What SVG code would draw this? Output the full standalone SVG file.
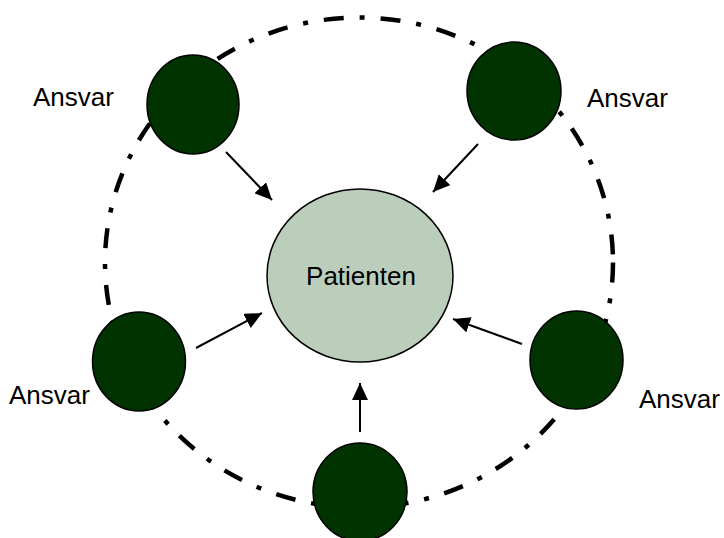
<svg xmlns="http://www.w3.org/2000/svg" width="724" height="538" viewBox="0 0 724 538">
  <style>
    .ring { fill: none; stroke: #000; stroke-width: 4.5; stroke-dasharray: 20 16 5 16; }
    .resp { fill: #003300; stroke: #000; stroke-width: 1.5; }
    .patient { fill: #bbcdbb; stroke: #000; stroke-width: 1.5; }
    .lbl { font-family: "Liberation Sans", Arial, sans-serif; font-size: 26px; fill: #000; }
    .arrow { stroke: #000; stroke-width: 2; fill: none; marker-end: url(#ah); }
  </style>
  <defs>
    <marker id="ah" markerUnits="userSpaceOnUse" markerWidth="18" markerHeight="16" viewBox="0 0 18 16" refX="17" refY="8" orient="auto">
      <path d="M0,0 L17,8 L0,16 Z" fill="#000"/>
    </marker>
  </defs>
  <rect width="724" height="538" fill="#fff"/>

  <g id="ring">
    <ellipse class="ring" cx="359" cy="262.5" rx="254" ry="245"/>
  </g>

  <g id="connectors">
    <line class="arrow" x1="226" y1="152" x2="272" y2="200"/>
    <line class="arrow" x1="478" y1="144" x2="433" y2="192"/>
    <line class="arrow" x1="196" y1="348" x2="262" y2="313"/>
    <line class="arrow" x1="522" y1="344" x2="453" y2="319"/>
    <line class="arrow" x1="360" y1="432" x2="360" y2="383"/>
  </g>

  <g id="patient">
    <ellipse class="patient" cx="360" cy="275.5" rx="93" ry="86.5"/>
    <text class="lbl" x="361" y="285" text-anchor="middle">Patienten</text>
  </g>

  <g id="node-top-left">
    <ellipse class="resp" cx="193" cy="104.5" rx="46" ry="49.5"/>
    <text class="lbl" x="33" y="106">Ansvar</text>
  </g>

  <g id="node-top-right">
    <ellipse class="resp" cx="514" cy="91" rx="47" ry="49"/>
    <text class="lbl" x="587" y="107">Ansvar</text>
  </g>

  <g id="node-bottom-left">
    <ellipse class="resp" cx="139" cy="361.5" rx="46.5" ry="49.5"/>
    <text class="lbl" x="9" y="404">Ansvar</text>
  </g>

  <g id="node-bottom-right">
    <ellipse class="resp" cx="576.5" cy="360" rx="46.5" ry="49"/>
    <text class="lbl" x="639" y="408">Ansvar</text>
  </g>

  <g id="node-bottom">
    <ellipse class="resp" cx="360" cy="492" rx="47" ry="49"/>
  </g>
</svg>
